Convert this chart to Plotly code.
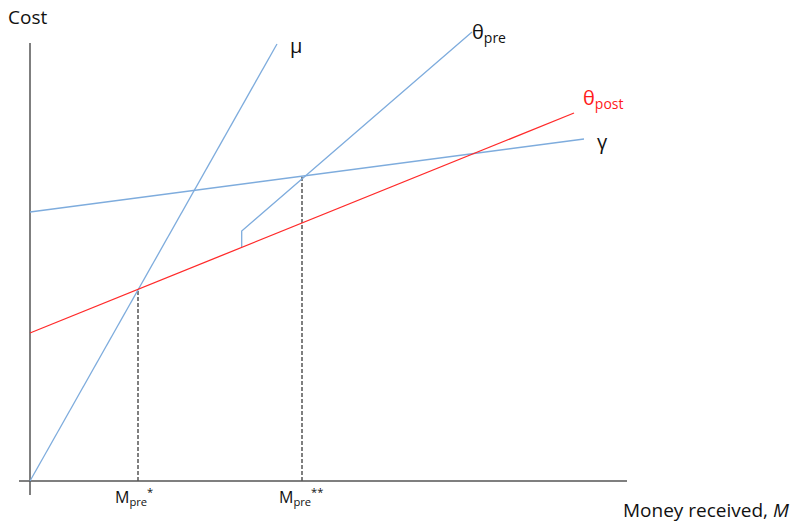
import plotly.graph_objects as go

# Data in chart units (origin at axes crossing)
mu_x = [0, 247]
mu_y = [0, 437]
theta_pre_x = [211.7, 211.7, 442]
theta_pre_y = [234, 250, 449]
theta_post_x = [0, 544]
theta_post_y = [148, 368]
gamma_x = [0, 554]
gamma_y = [269, 342]
m_star = 108
m_star_y = 191
m_2star = 272
m_2star_y = 305

blue = "#7eacdd"
red = "#ff2a2a"
axis_col = "#555555"
font_fam = "Open Sans, sans-serif"

fig = go.Figure()
# axes
fig.add_trace(go.Scatter(x=[0, 0], y=[-14, 438], mode="lines", line=dict(color=axis_col, width=1.5), hoverinfo="skip"))
fig.add_trace(go.Scatter(x=[-11, 597], y=[0, 0], mode="lines", line=dict(color=axis_col, width=1.5), hoverinfo="skip"))
# dashed verticals
fig.add_trace(go.Scatter(x=[m_star, m_star], y=[0, m_star_y], mode="lines", line=dict(color=axis_col, width=1.5, dash="4px,2px"), hoverinfo="skip"))
fig.add_trace(go.Scatter(x=[m_2star, m_2star], y=[0, m_2star_y], mode="lines", line=dict(color=axis_col, width=1.5, dash="4px,2px"), hoverinfo="skip"))
# lines
fig.add_trace(go.Scatter(x=gamma_x, y=gamma_y, mode="lines", line=dict(color=blue, width=1.3), hoverinfo="skip"))
fig.add_trace(go.Scatter(x=mu_x, y=mu_y, mode="lines", line=dict(color=blue, width=1.3), hoverinfo="skip"))
fig.add_trace(go.Scatter(x=theta_pre_x, y=theta_pre_y, mode="lines", line=dict(color=blue, width=1.3), hoverinfo="skip"))
fig.add_trace(go.Scatter(x=theta_post_x, y=theta_post_y, mode="lines", line=dict(color=red, width=1.3), hoverinfo="skip"))

ann = []
def a(x, y, text, size=17, color="#111111", xanchor="center"):
    ann.append(dict(x=x, y=y, text=text, showarrow=False, xanchor=xanchor, yanchor="middle",
                    font=dict(family=font_fam, size=size, color=color)))

a(-24, 464, "Cost", 19, xanchor="left")
a(258, 436, "μ", 20, xanchor="left")
a(440, 449, "θ<sub>pre</sub>", 20, xanchor="left")
a(551, 383, "θ<sub>post</sub>", 20, color="#ff1a1a", xanchor="left")
a(565, 340, "γ", 20, xanchor="left")
a(m_star - 4, -15, "M<sub>pre</sub><sup>*</sup>", 16)
a(m_2star - 1, -15, "M<sub>pre</sub><sup>**</sup>", 16)
a(591, -29, "Money received, <i>M</i>", 19, xanchor="left")

fig.update_layout(
    width=803, height=524,
    margin=dict(l=0, r=0, t=0, b=0),
    paper_bgcolor="white", plot_bgcolor="white",
    showlegend=False,
    xaxis=dict(range=[-30, 773], visible=False, fixedrange=True),
    yaxis=dict(range=[-43, 481], visible=False, fixedrange=True),
    annotations=ann,
)
fig.write_html("out.html", config={"displayModeBar": False},
               post_script="document.body.style.margin='0px';document.body.style.overflow='hidden';")
